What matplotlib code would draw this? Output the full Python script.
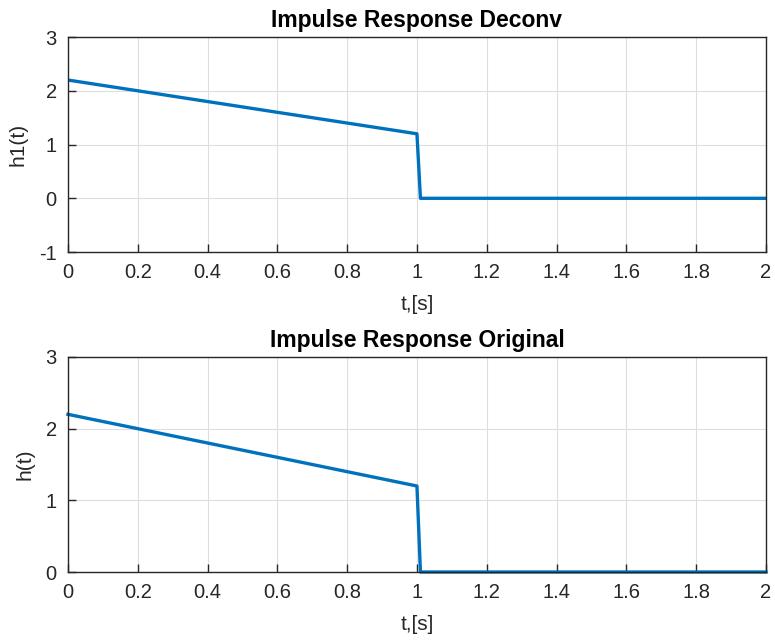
import matplotlib
matplotlib.use("Agg")
import matplotlib.pyplot as plt

# Data (breakpoints of piecewise-linear response)
t_deconv = [0.0, 1.0, 1.01, 2.0]
h_deconv = [2.2, 1.2, 0.0, 0.0]
t_orig = [0.0, 1.0, 1.01, 2.0]
h_orig = [2.2, 1.2, 0.0, 0.0]

xticks = [0, 0.2, 0.4, 0.6, 0.8, 1, 1.2, 1.4, 1.6, 1.8, 2]
xticklabels = ["0", "0.2", "0.4", "0.6", "0.8", "1", "1.2", "1.4", "1.6", "1.8", "2"]

plt.rcParams['font.family'] = ['Liberation Sans', 'DejaVu Sans']

fig = plt.figure(figsize=(7.75, 6.43), dpi=100)
color = '#0072BD'

def style(ax, ylim, yticks, title, ylabel):
    ax.set_xlim(0, 2)
    ax.set_ylim(*ylim)
    ax.set_xticks(xticks)
    ax.set_xticklabels(xticklabels)
    ax.set_yticks(yticks)
    ax.set_yticklabels([str(v) for v in yticks])
    ax.grid(True, color='#dedede', linewidth=0.8)
    ax.set_axisbelow(True)
    ax.tick_params(direction='in', length=6, width=1, colors='#262626', labelsize=14.5, pad=8)
    for s in ax.spines.values():
        s.set_linewidth(1.0)
        s.set_color('#262626')
    ax.set_title(title, fontweight='bold', fontsize=16.5, pad=7)
    ax.set_xlabel("t,[s]", fontsize=15, color='#262626', labelpad=9)
    ax.set_ylabel(ylabel, fontsize=15, color='#262626', labelpad=8)

ax1 = fig.add_axes([0.0877, 0.608, 0.9006, 0.3344])
ax1.plot(t_deconv, h_deconv, color=color, linewidth=2.4)
style(ax1, (-1, 3), [-1, 0, 1, 2, 3], "Impulse Response Deconv", "h1(t)")

ax2 = fig.add_axes([0.0877, 0.1104, 0.9006, 0.3344])
ax2.plot(t_orig, h_orig, color=color, linewidth=2.4, clip_on=False)
style(ax2, (0, 3), [0, 1, 2, 3], "Impulse Response Original", "h(t)")

fig.savefig("out.png", dpi=100)
